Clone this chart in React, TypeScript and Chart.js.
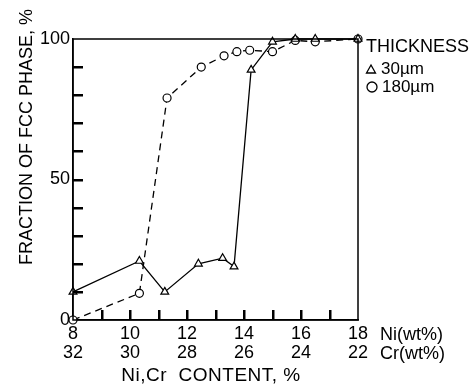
import React, { useEffect, useRef } from "react";
import { Chart, registerables } from "chart.js";

Chart.register(...registerables);

const niThin = [8, 10.33, 11.22, 12.4, 13.25, 13.65, 14.25, 15.0, 15.8, 16.5, 18];
const fracThin = [10, 21, 10, 20, 22, 19, 89, 99, 100, 100, 100];
const niThick = [8, 10.33, 11.3, 12.5, 13.3, 13.75, 14.2, 15.0, 15.8, 16.5, 18];
const fracThick = [0, 9.5, 79, 90, 94, 95.5, 96, 95.5, 99.5, 99, 100];

const niTickLabels = ["8", "10", "12", "14", "16", "18"];
const crTickLabels = ["32", "30", "28", "26", "24", "22"];
const yTickLabels = ["0", "50", "100"];
const yMinorTicks = [10, 20, 30, 40, 50, 60, 70, 80, 90];
const xMinorTicks = [9, 10, 11, 12, 13, 14, 15, 16, 17];
const legendTitle = "THICKNESS";
const seriesNames = ["30µm", "180µm"];
const xTitle = "Ni,Cr  CONTENT, %";
const yTitle = "FRACTION OF FCC PHASE, %";

const FONT = "'Liberation Sans', Arial, sans-serif";
const INK = "#000";

const decor = {
  id: "decor",
  afterDraw(chart: any) {
    const { ctx, chartArea } = chart;
    const xs = chart.scales["x"];
    const ys = chart.scales["y"];
    ctx.save();
    ctx.strokeStyle = INK;
    ctx.fillStyle = INK;
    ctx.lineWidth = 1.5;
    ctx.strokeRect(chartArea.left, chartArea.top, chartArea.right - chartArea.left, chartArea.bottom - chartArea.top);
    // inner tick marks
    yMinorTicks.forEach((v) => {
      const y = Math.round(ys.getPixelForValue(v));
      ctx.fillRect(chartArea.left, y - 1, 10, 2.5);
    });
    xMinorTicks.forEach((v) => {
      const x = Math.round(xs.getPixelForValue(v));
      ctx.fillRect(x - 1, chartArea.bottom - 10, 2.5, 10);
    });
    ctx.font = `18px ${FONT}`;
    ctx.textAlign = "left";
    ctx.textBaseline = "middle";
    ctx.fillText("Ni(wt%)", 380, 335);
    ctx.fillText("Cr(wt%)", 380, 354);
    ctx.textAlign = "center";
    ctx.font = `19px ${FONT}`;
    try { (ctx as any).letterSpacing = "0.5px"; } catch (e) {}
    ctx.fillText(xTitle, 211, 376);
    try { (ctx as any).letterSpacing = "0px"; } catch (e) {}
    ctx.save();
    ctx.translate(27, 137);
    ctx.rotate(-Math.PI / 2);
    ctx.font = `18px ${FONT}`;
    ctx.fillText(yTitle, 0, 0);
    ctx.restore();
    ctx.textAlign = "left";
    ctx.font = `18px ${FONT}`;
    ctx.fillText(legendTitle, 366, 47);
    ctx.font = `17px ${FONT}`;
    ctx.fillText(seriesNames[0], 381, 69);
    ctx.fillText(seriesNames[1], 382, 87);
    ctx.lineWidth = 1.3;
    ctx.beginPath();
    ctx.moveTo(371, 65);
    ctx.lineTo(375.5, 73);
    ctx.lineTo(366.5, 73);
    ctx.closePath();
    ctx.stroke();
    ctx.beginPath();
    ctx.arc(372, 87, 5, 0, Math.PI * 2);
    ctx.stroke();
    ctx.restore();
  },
};

export default function App() {
  const ref = useRef<HTMLCanvasElement | null>(null);
  useEffect(() => {
    document.body.style.margin = "0";
    const canvas = ref.current!;
    const chart = new Chart(canvas, {
      type: "line",
      data: {
        datasets: [
          {
            label: seriesNames[0],
            data: niThin.map((x, i) => ({ x, y: fracThin[i] })),
            borderColor: INK,
            borderWidth: 1.3,
            pointStyle: "triangle",
            pointRadius: 4.5,
            pointBackgroundColor: "#fff",
            pointBorderColor: INK,
            pointBorderWidth: 1.2,
            tension: 0,
            clip: false,
          },
          {
            label: seriesNames[1],
            data: niThick.map((x, i) => ({ x, y: fracThick[i] })),
            borderColor: INK,
            borderWidth: 1.3,
            borderDash: [7, 5],
            pointStyle: "circle",
            pointRadius: 4,
            pointBackgroundColor: "#fff",
            pointBorderColor: INK,
            pointBorderWidth: 1.2,
            tension: 0,
            clip: false,
          },
        ],
      },
      options: {
        responsive: false,
        animation: false,
        layout: { padding: { left: 0, top: 39, right: 115, bottom: 0 } },
        plugins: { legend: { display: false }, tooltip: { enabled: false } },
        scales: {
          x: {
            type: "linear",
            min: 8,
            max: 18,
            grid: { display: false, drawTicks: false },
            border: { display: true, color: INK, width: 1.5 },
            afterFit: (s: any) => {
              s.height = 65;
            },
            ticks: {
              stepSize: 1,
              autoSkip: false,
              maxRotation: 0,
              padding: 5,
              color: INK,
              font: { family: FONT, size: 18, lineHeight: 1.05 },
              callback: (v: any) => {
                const n = Number(v);
                if (n % 2 !== 0) return "";
                const i = (n - 8) / 2;
                return [niTickLabels[i], crTickLabels[i]];
              },
            },
          },
          y: {
            min: 0,
            max: 100,
            grid: { display: false, drawTicks: false },
            border: { display: true, color: INK, width: 1.5 },
            afterFit: (s: any) => {
              s.width = 73;
            },
            ticks: {
              stepSize: 10,
              padding: 3,
              color: INK,
              font: { family: FONT, size: 18 },
              callback: (v: any) => {
                const n = Number(v);
                return n % 50 === 0 ? yTickLabels[n / 50] : "";
              },
            },
          },
        },
      },
      plugins: [decor],
    });
    return () => chart.destroy();
  }, []);
  return (
    <div style={{ width: 473, height: 385, background: "#fff" }}>
      <canvas ref={ref} width={473} height={385} style={{ display: "block" }} />
    </div>
  );
}
